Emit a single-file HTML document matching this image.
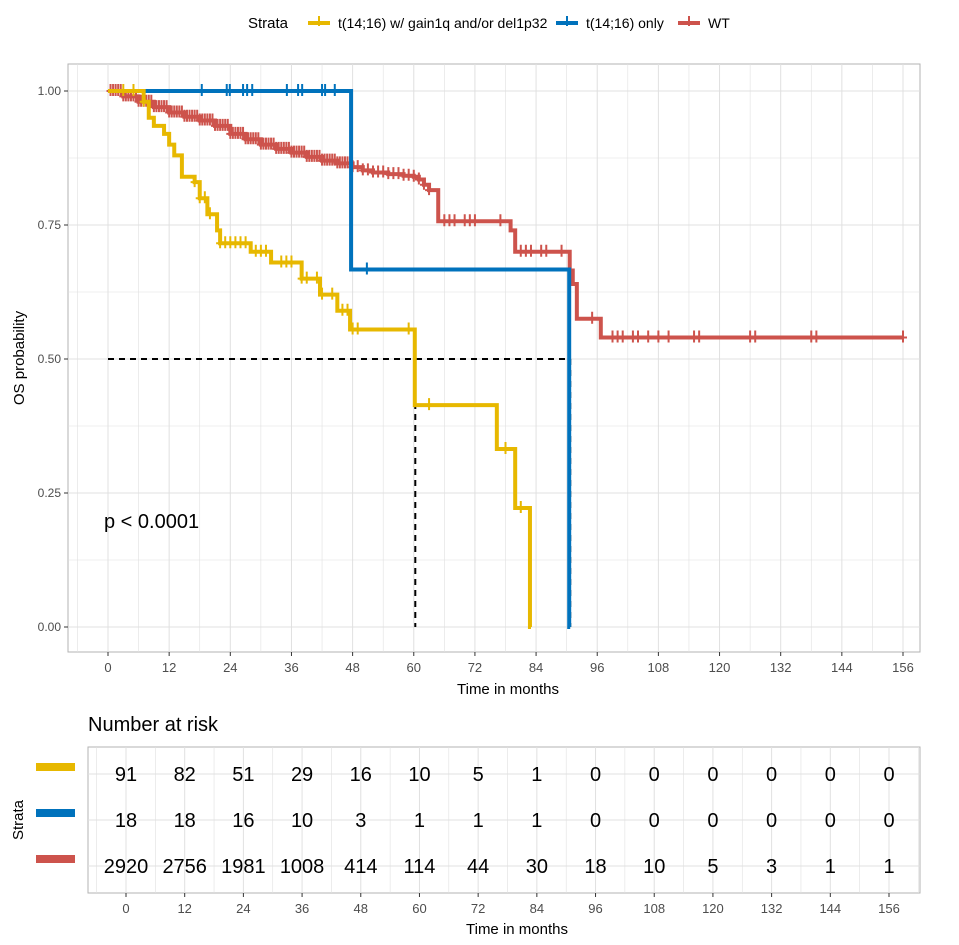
<!DOCTYPE html>
<html><head><meta charset="utf-8"><style>
body{margin:0;background:#fff;}
svg{display:block;font-family:"Liberation Sans",Arial,sans-serif;}
</style></head><body>
<svg id="c" width="959" height="945" viewBox="0 0 959 945"></svg>
<script>
const yellowT=[0,7,8,9,11,12,13,14.5,17,18,19.5,21.4,22,28,32,38,41.6,45,47.5,60.2,76.3,79.9,82.8];
const yellowS=[1,0.98,0.95,0.935,0.92,0.90,0.88,0.84,0.83,0.80,0.77,0.74,0.716,0.70,0.68,0.65,0.62,0.59,0.555,0.414,0.332,0.222,0];
const yellowCens=[3,5,7,17,18,19,20,22,23,24,25,26,27,29,30,31,34,35,36,38,39,41,42,44,46,47,48,49,59,63,78,81];
const blueT=[0,47.7,90.5];
const blueS=[1,0.667,0];
const blueCens=[18.4,23.3,23.9,26.5,27.3,28.3,35.1,37.3,38.1,42,42.6,44.5,50.8];
const redT=[0,3,6,9,12,15,18,21,24,27,30,33,36,39,42,45,48,50,52,55,58,60,61,62,63,64.8,78,79,79.9,90,90.6,91.2,92,96.7];
const redS=[1,0.99,0.98,0.97,0.96,0.952,0.945,0.935,0.92,0.91,0.90,0.892,0.885,0.877,0.87,0.865,0.858,0.852,0.848,0.845,0.842,0.84,0.835,0.825,0.815,0.757,0.757,0.74,0.70,0.70,0.665,0.64,0.575,0.54];
const redCens=[0.5,1,1.5,2,2.5,3,3.5,4,4.5,5,5.5,6,6.5,7,7.5,8,8.5,9,9.5,10,10.5,11,11.5,12,12.5,13,13.5,14,14.5,15,15.5,16,16.5,17,17.5,18,18.5,19,19.5,20,20.5,21,21.5,22,22.5,23,23.5,24,24.5,25,25.5,26,26.5,27,27.5,28,28.5,29,29.5,30,30.5,31,31.5,32,32.5,33,33.5,34,34.5,35,35.5,36,36.5,37,37.5,38,38.5,39,39.5,40,40.5,41,41.5,42,42.5,43,43.5,44,44.5,45,45.5,46,46.5,47,47.5,48,49,50,51,52,53,54,55,56,57,58,59,60,61,62,63,66,67,68,70,71,72,77,81,82,83,85,86,89,95,99,100,101,103,104,106,108,110,115,116,126,127,138,139,156];
const endT=[83,90.7,156];
const xTicks=[0,12,24,36,48,60,72,84,96,108,120,132,144,156];
const yTicks=[0,0.25,0.5,0.75,1];
const yLabels=["0.00","0.25","0.50","0.75","1.00"];
const riskYellow=[91,82,51,29,16,10,5,1,0,0,0,0,0,0];
const riskBlue=[18,18,16,10,3,1,1,1,0,0,0,0,0,0];
const riskRed=[2920,2756,1981,1008,414,114,44,30,18,10,5,3,1,1];
const medians=[60.3,90.7];

const svg=document.getElementById('c');const NS='http://www.w3.org/2000/svg';
function el(t,a,p){const e=document.createElementNS(NS,t);for(const k in a)e.setAttribute(k,a[k]);(p||svg).appendChild(e);return e;}
const X=m=>108+m*(903-108)/156, Y=s=>627-s*536;
const XT=m=>126+m*(889-126)/156;
const colors={y:'#E7B800',b:'#0072BC',r:'#CD534C'};
const panel=el('rect',{x:68,y:64,width:852,height:588,fill:'#fff',stroke:'#b3b3b3','stroke-width':1});

for(let m=-6;m<=162;m+=6){const x=X(m);if(x<68||x>920)continue;el('line',{x1:x,x2:x,y1:64,y2:652,stroke:'#e0e0e0','stroke-width':m%12?0.6:1});}
for(let s=-0.125;s<=1.125;s+=0.125){const y=Y(s);if(y<64||y>652)continue;el('line',{x1:68,x2:920,y1:y,y2:y,stroke:'#e0e0e0','stroke-width':Math.abs((s*4)%1)<1e-9?1:0.6});}
xTicks.forEach(m=>{el('line',{x1:X(m),x2:X(m),y1:652,y2:656,stroke:'#333'});const t=el('text',{x:X(m),y:672,'text-anchor':'middle','font-size':13,fill:'#4d4d4d'});t.textContent=m;});
yTicks.forEach((s,i)=>{el('line',{x1:64,x2:68,y1:Y(s),y2:Y(s),stroke:'#333'});const t=el('text',{x:61,y:Y(s)+4,'text-anchor':'end','font-size':12,fill:'#4d4d4d'});t.textContent=yLabels[i];});
let t=el('text',{x:508,y:694,'text-anchor':'middle','font-size':15});t.textContent='Time in months';
t=el('text',{x:0,y:0,transform:'translate(24,358) rotate(-90)','text-anchor':'middle','font-size':15});t.textContent='OS probability';
el('line',{x1:X(0),x2:X(medians[1]),y1:Y(0.5),y2:Y(0.5),stroke:'#000','stroke-width':2,'stroke-dasharray':'6,5'});
medians.forEach(m=>el('line',{x1:X(m),x2:X(m),y1:Y(0.5),y2:Y(0),stroke:'#000','stroke-width':2,'stroke-dasharray':'6,5'}));
function stepPath(T,S,end){let d=`M${X(T[0])},${Y(S[0])}`;for(let i=1;i<T.length;i++){d+=`H${X(T[i])}V${Y(S[i])}`;}d+=`H${X(end)}`;return d;}
function survAt(T,S,m){let s=S[0];for(let i=0;i<T.length;i++)if(T[i]<=m)s=S[i];return s;}
function curve(T,S,C,end,col,name){const g=el('g',{});
 el('path',{d:stepPath(T,S,end),fill:'none',stroke:col,'stroke-width':4},g);
 C.forEach(m=>{if(m>end)return;const s=survAt(T,S,m);el('path',{d:`M${X(m)-4},${Y(s)}H${X(m)+4}M${X(m)},${Y(s)-7}V${Y(s)+5}`,stroke:col,'stroke-width':2},g);});}
curve(redT,redS,redCens,endT[2],colors.r,'wt-curve');
curve(blueT,blueS,blueCens,endT[1],colors.b,'t1416-only-curve');
curve(yellowT,yellowS,yellowCens,endT[0],colors.y,'t1416-gain1q-curve');
t=el('text',{x:104,y:528,'font-size':20});t.textContent='p < 0.0001';
const lg=el('g',{});
t=el('text',{x:248,y:28,'font-size':15},lg);t.textContent='Strata';
[[308,'t(14;16) w/ gain1q and/or del1p32',colors.y,'legend-entry-gain1q'],[556,'t(14;16) only',colors.b,'legend-entry-only'],[678,'WT',colors.r,'legend-entry-wt']].forEach(([x,lab,col,nm])=>{
 const g=el('g',{},lg);
 el('line',{x1:x,x2:x+22,y1:23,y2:23,stroke:col,'stroke-width':4},g);el('line',{x1:x+11,x2:x+11,y1:16,y2:26,stroke:col,'stroke-width':2},g);
 const tt=el('text',{x:x+30,y:28,'font-size':14},g);tt.textContent=lab;});
t=el('text',{x:88,y:731,'font-size':20});t.textContent='Number at risk';
const tp=el('rect',{x:88,y:747,width:832,height:146,fill:'#fff',stroke:'#b3b3b3'});
for(let m=-6;m<=168;m+=6){const x=XT(m);if(x<=88||x>=920)continue;el('line',{x1:x,x2:x,y1:747,y2:893,stroke:'#e0e0e0','stroke-width':m%12?0.6:1});}
const rowY=[774,820,866];
rowY.forEach(y=>el('line',{x1:88,x2:920,y1:y,y2:y,stroke:'#e0e0e0'}));
[[riskYellow,colors.y,'risk-row-gain1q'],[riskBlue,colors.b,'risk-row-only'],[riskRed,colors.r,'risk-row-wt']].forEach(([arr,col,nm],r)=>{
 const g=el('g',{});
 el('rect',{x:36,y:rowY[r]-11,width:39,height:8,fill:col},g);
 arr.forEach((v,i)=>{const tt=el('text',{x:XT(xTicks[i]),y:rowY[r]+7,'text-anchor':'middle','font-size':20},g);tt.textContent=v;});});
xTicks.forEach(m=>{el('line',{x1:XT(m),x2:XT(m),y1:893,y2:897,stroke:'#333'});const tt=el('text',{x:XT(m),y:913,'text-anchor':'middle','font-size':13,fill:'#4d4d4d'});tt.textContent=m;});
t=el('text',{x:517,y:934,'text-anchor':'middle','font-size':15});t.textContent='Time in months';
t=el('text',{x:0,y:0,transform:'translate(23,820) rotate(-90)','text-anchor':'middle','font-size':15});t.textContent='Strata';
</script>
</body></html>
